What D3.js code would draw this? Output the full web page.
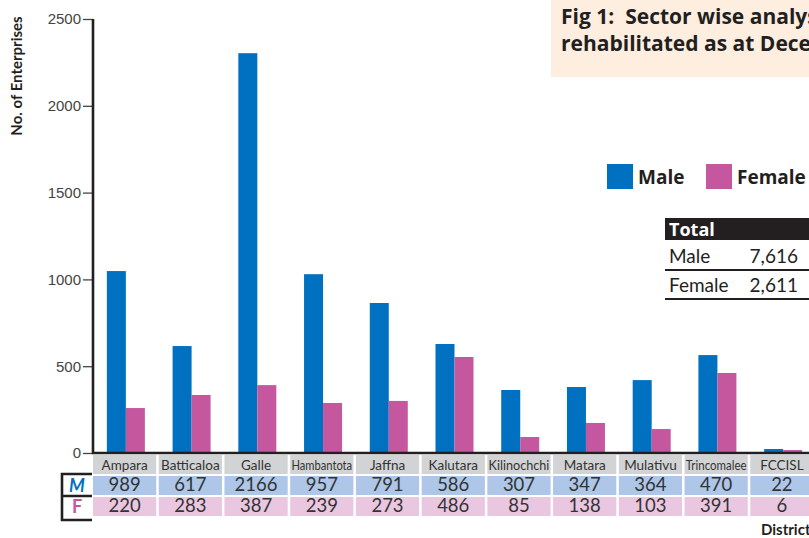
<!DOCTYPE html>
<meta charset="utf-8">
<style>
    body { margin: 0; background: #fff; }
    svg { font-family: "Lato", "Open Sans", sans-serif; }
    .axis-y path { display: none; }
    .axis-y line { stroke: #444; stroke-width: 1.3px; }
    .axis-y text { fill: #444; font-size: 15px; }
    .title { font-family: "Open Sans", sans-serif; font-weight: bold; font-size: 21px; fill: #231f20; }
</style>
<body>
<script src="https://d3js.org/d3.v7.min.js"></script>
<script>

// districts along the x axis
var districts = ["Ampara", "Batticaloa", "Galle", "Hambantota", "Jaffna", "Kalutara",
                 "Kilinochchi", "Matara", "Mulativu", "Trincomalee", "FCCISL"];

// bar heights as drawn in the figure
var barMale   = [1048, 616, 2303, 1030, 864, 628, 363, 380, 420, 564, 23];
var barFemale = [259, 334, 391, 288, 300, 553, 92, 173, 138, 461, 17];

// numbers printed in the table under the bars
var tableMale   = [989, 617, 2166, 957, 791, 586, 307, 347, 364, 470, 22];
var tableFemale = [220, 283, 387, 239, 273, 486, 85, 138, 103, 391, 6];

var yTicks = [0, 500, 1000, 1500, 2000, 2500];
var totals = [["Male", "7,616"], ["Female", "2,611"]];

var maleColor = "#0070c0", femaleColor = "#c5579f";

var svg = d3.select("body").append("svg")
    .attr("width", 809)
    .attr("height", 538);

// scales
var x = d3.scaleBand().domain(districts).range([93, 816]).padding(0);
var y = d3.scaleLinear().domain([0, 2500]).range([453, 19]);
var barW = 19;

// title box (runs off the right edge, as in the source figure)
svg.append("rect")
    .attr("x", 551).attr("y", 0).attr("width", 260).attr("height", 77)
    .attr("fill", "#fdeee0");
svg.append("text").attr("class", "title").attr("x", 561).attr("y", 24)
    .attr("xml:space", "preserve")
    .text("Fig 1:  Sector wise analysis");
svg.append("text").attr("class", "title").attr("x", 561).attr("y", 51)
    .text("rehabilitated as at December");

// bars
var groups = svg.selectAll(".grp")
    .data(districts)
    .enter().append("g")
    .attr("class", "grp");

groups.append("rect")
    .attr("x", function(d) { return x(d) + x.bandwidth() / 2 - barW; })
    .attr("y", function(d, i) { return y(barMale[i]); })
    .attr("width", barW)
    .attr("height", function(d, i) { return y(0) - y(barMale[i]); })
    .attr("fill", maleColor);

groups.append("rect")
    .attr("x", function(d) { return x(d) + x.bandwidth() / 2; })
    .attr("y", function(d, i) { return y(barFemale[i]); })
    .attr("width", barW)
    .attr("height", function(d, i) { return y(0) - y(barFemale[i]); })
    .attr("fill", femaleColor);

// y axis
svg.append("g")
    .attr("class", "axis-y")
    .attr("transform", "translate(93,0)")
    .call(d3.axisLeft(y).tickValues(yTicks).tickSize(10).tickPadding(2).tickFormat(d3.format("d")));

svg.append("line")
    .attr("x1", 93).attr("x2", 93).attr("y1", y(2500)).attr("y2", y(0) + 1)
    .attr("stroke", "#231f20").attr("stroke-width", 2.6);
svg.append("line")
    .attr("x1", 92).attr("x2", 809).attr("y1", y(0)).attr("y2", y(0))
    .attr("stroke", "#231f20").attr("stroke-width", 2.6);

svg.append("text")
    .attr("transform", "translate(22,76) rotate(-90)")
    .attr("text-anchor", "middle")
    .attr("font-weight", "bold")
    .attr("font-size", 15)
    .attr("fill", "#231f20")
    .text("No. of Enterprises");

// table below the axis
var rows = [
    {top: 455, h: 19, fill: "#d1d3d4", vals: districts, size: 13.5},
    {top: 476, h: 19, fill: "#aec6e8", vals: tableMale, size: 18.5},
    {top: 497, h: 19, fill: "#eac7e0", vals: tableFemale, size: 18.5}
];
rows.forEach(function(r) {
    var cells = svg.selectAll(null).data(districts).enter().append("g");
    cells.append("rect")
        .attr("x", function(d) { return x(d); })
        .attr("y", r.top)
        .attr("width", x.bandwidth() - 2.5)
        .attr("height", r.h)
        .attr("fill", r.fill);
    cells.append("text")
        .attr("x", function(d) { return x(d) + (x.bandwidth() - 2.5) / 2; })
        .attr("y", r.top + r.h - 4)
        .attr("text-anchor", "middle")
        .attr("font-size", r.size)
        .attr("fill", "#333")
        .each(function(d, i) {
            var t = d3.select(this).text(r.vals[i]);
            if (this.getComputedTextLength() > x.bandwidth() - 5) {
                t.attr("textLength", x.bandwidth() - 5).attr("lengthAdjust", "spacingAndGlyphs");
            }
        });
});

// M / F bracket
var br = svg.append("g").attr("stroke", "#231f20").attr("stroke-width", 2.6).attr("fill", "none");
br.append("path").attr("d", "M92,474 H62 V520 H92 M62,496 H92");
svg.append("text").attr("x", 77).attr("y", 492).attr("text-anchor", "middle")
    .attr("font-weight", "bold").attr("font-style", "italic").attr("font-size", 18)
    .attr("fill", maleColor).text("M");
svg.append("text").attr("x", 77).attr("y", 513).attr("text-anchor", "middle")
    .attr("font-weight", "bold").attr("font-size", 18)
    .attr("fill", femaleColor).text("F");

svg.append("text")
    .attr("x", 761).attr("y", 535)
    .attr("font-weight", "bold").attr("font-size", 15).attr("fill", "#231f20")
    .text("District");

// legend
var legend = [["Male", maleColor, 607], ["Female", femaleColor, 706]];
legend.forEach(function(l) {
    svg.append("rect").attr("x", l[2]).attr("y", 164).attr("width", 26).attr("height", 25).attr("fill", l[1]);
    svg.append("text").attr("x", l[2] + 31).attr("y", 184)
        .attr("font-family", "Open Sans, sans-serif")
        .attr("font-weight", "bold").attr("font-size", 19).attr("fill", "#231f20")
        .text(l[0]);
});

// totals box
svg.append("rect").attr("x", 665).attr("y", 218).attr("width", 150).attr("height", 22).attr("fill", "#231f20");
svg.append("text").attr("x", 669).attr("y", 236)
    .attr("font-family", "Open Sans, sans-serif")
    .attr("font-weight", "bold").attr("font-size", 18).attr("fill", "#fff").text("Total");
totals.forEach(function(t, i) {
    var base = 263 + i * 29;
    svg.append("text").attr("x", 669).attr("y", base)
        .attr("font-size", 19).attr("fill", "#231f20").text(t[0]);
    svg.append("text").attr("x", 798).attr("y", base).attr("text-anchor", "end")
        .attr("font-size", 19).attr("fill", "#231f20").text(t[1]);
    svg.append("line").attr("x1", 665).attr("x2", 809)
        .attr("y1", base + 7).attr("y2", base + 7)
        .attr("stroke", "#231f20").attr("stroke-width", 2.2);
});

</script>
</body>
